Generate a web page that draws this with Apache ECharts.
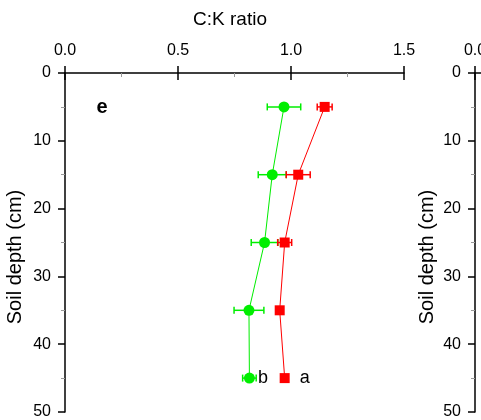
<!DOCTYPE html>
<html><head><meta charset="utf-8">
<script src="https://cdn.jsdelivr.net/npm/echarts@6/dist/echarts.min.js"></script>
<style>html,body{margin:0;padding:0;background:#fff}#c{width:481px;height:420px}</style>
</head><body><div id="c"></div>
<script>
const depths = [5, 15, 25, 35, 45];
const greenMean = [0.969, 0.917, 0.883, 0.814, 0.816];
const greenErr = [0.074, 0.062, 0.059, 0.066, 0.030];
const redMean = [1.149, 1.032, 0.972, 0.950, 0.972];
const redErr = [0.033, 0.053, 0.031, 0.010, 0.012];
const xMin = 0, xMax = 1.5, xInterval = 0.5;
const yMin = 0, yMax = 50, yInterval = 10;
const xTitle = 'C:K ratio';
const yTitle = 'Soil depth (cm)';
const panelLabel = 'e';
const greenLetter = 'b', redLetter = 'a';

const FONT = '"Liberation Sans", Arial, sans-serif';
const GREEN = '#00ee00', RED = '#ff0000';

function xAxes(gi) {
  return [
    { gridIndex: gi, type: 'value', position: 'top', min: xMin, max: xMax, interval: xInterval,
      axisLine: { show: true, lineStyle: { color: '#000', width: 1.5 } },
      axisTick: { show: true, inside: false, length: 7, lineStyle: { color: '#000', width: 1.5 } },
      axisLabel: { show: true, margin: 14, formatter: v => v.toFixed(1), fontFamily: FONT, fontSize: 16, color: '#000' },
      splitLine: { show: false } },
    { gridIndex: gi, type: 'value', position: 'top', min: xMin, max: xMax, interval: xInterval,
      axisLine: { show: false },
      axisTick: { show: true, inside: true, length: 7, lineStyle: { color: '#000', width: 1.5 } },
      minorTick: { show: true, splitNumber: 2, length: 4, lineStyle: { color: '#999', width: 1 } },
      axisLabel: { show: false }, splitLine: { show: false } }
  ];
}
function yAxes(gi) {
  return [
    { gridIndex: gi, type: 'value', inverse: true, min: yMin, max: yMax, interval: yInterval,
      axisLine: { show: true, lineStyle: { color: '#000', width: 1.5 } },
      axisTick: { show: true, inside: false, length: 7, lineStyle: { color: '#000', width: 1.5 } },
      axisLabel: { show: true, margin: 14, fontFamily: FONT, fontSize: 16, color: '#000' },
      splitLine: { show: false } },
    { gridIndex: gi, type: 'value', inverse: true, min: yMin, max: yMax, interval: yInterval,
      axisLine: { show: false },
      axisTick: { show: true, inside: true, length: 7, lineStyle: { color: '#000', width: 1.5 } },
      minorTick: { show: true, splitNumber: 2, length: 4, lineStyle: { color: '#999', width: 1 } },
      axisLabel: { show: false }, splitLine: { show: false } }
  ];
}

function errSeries(means, errs, color) {
  return {
    type: 'custom', xAxisIndex: 0, yAxisIndex: 0, z: 3,
    data: depths.map((d, i) => [means[i] - errs[i], means[i] + errs[i], d]),
    renderItem: function (params, api) {
      const lo = api.coord([api.value(0), api.value(2)]);
      const hi = api.coord([api.value(1), api.value(2)]);
      const h = 3.5;
      const st = { stroke: color, lineWidth: 1.5 };
      return { type: 'group', children: [
        { type: 'line', shape: { x1: lo[0], y1: lo[1], x2: hi[0], y2: hi[1] }, style: st },
        { type: 'line', shape: { x1: lo[0], y1: lo[1] - h, x2: lo[0], y2: lo[1] + h }, style: st },
        { type: 'line', shape: { x1: hi[0], y1: hi[1] - h, x2: hi[0], y2: hi[1] + h }, style: st }
      ]};
    }
  };
}

function lineSeries(means, color, symbol, size, letter, offsetX) {
  return {
    type: 'line', xAxisIndex: 0, yAxisIndex: 0, z: 4,
    symbol: symbol, symbolSize: size, showAllSymbol: true,
    lineStyle: { color: color, width: 1 },
    itemStyle: { color: color },
    data: depths.map((d, i) => {
      const item = { value: [means[i], d] };
      if (i === depths.length - 1) {
        item.label = { show: true, position: 'right', distance: offsetX, formatter: letter,
          fontFamily: FONT, fontSize: 18, color: '#000' };
      }
      return item;
    })
  };
}

const titleStyle = { fontFamily: FONT, fontSize: 19, fill: '#000', align: 'center', verticalAlign: 'middle',
  textAlign: 'center', textVerticalAlign: 'middle' };

const chart = echarts.init(document.getElementById('c'), null, { renderer: 'canvas' });
chart.setOption({
  animation: false,
  backgroundColor: '#fff',
  grid: [
    { left: 65, top: 73, width: 339, height: 340, containLabel: false },
    { left: 475, top: 73, width: 339, height: 340, containLabel: false }
  ],
  xAxis: [...xAxes(0), ...xAxes(1)],
  yAxis: [...yAxes(0), ...yAxes(1)],
  graphic: [
    { type: 'text', x: 230, y: 20, style: Object.assign({ text: xTitle }, titleStyle) },
    { type: 'text', x: 15, y: 257, rotation: Math.PI / 2, style: Object.assign({ text: yTitle }, titleStyle, { fontSize: 20 }) },
    { type: 'text', x: 427, y: 257, rotation: Math.PI / 2, style: Object.assign({ text: yTitle }, titleStyle, { fontSize: 20 }) },
    { type: 'text', x: 102, y: 107, style: Object.assign({ text: panelLabel }, titleStyle, { fontSize: 20, fontWeight: 'bold' }) }
  ],
  series: [
    errSeries(greenMean, greenErr, GREEN),
    errSeries(redMean, redErr, RED),
    lineSeries(greenMean, GREEN, 'circle', 11, greenLetter, 3),
    lineSeries(redMean, RED, 'rect', 10, redLetter, 10)
  ]
});
</script></body></html>
